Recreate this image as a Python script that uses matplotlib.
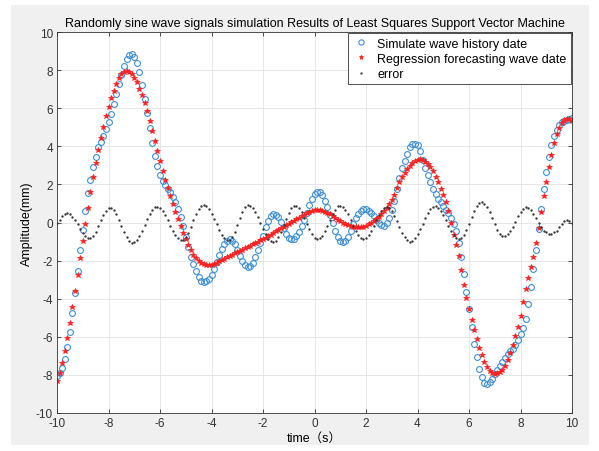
import numpy as np
import matplotlib
matplotlib.use("Agg")
import matplotlib.pyplot as plt
from matplotlib.patches import Rectangle

# =========================
# data, x = -10 : 0.1 : 10
# =========================
t_start, t_stop, t_step = -10.0, 10.0, 0.1

# simulated wave (blue circles)
wave_sim = [
    -8.05, -7.90, -7.65, -7.15, -6.55, -5.75, -4.75, -3.70, -2.55, -1.45,
    -0.40, 0.60, 1.55, 2.25, 2.90, 3.45, 3.95, 4.22, 4.56, 4.91,
    5.30, 5.70, 6.22, 6.75, 7.27, 7.74, 8.23, 8.58, 8.79, 8.85,
    8.67, 8.36, 7.88, 7.23, 6.48, 5.73, 4.94, 4.16, 3.51, 2.98,
    2.51, 2.19, 1.97, 1.76, 1.58, 1.32, 1.06, 0.71, 0.27, -0.20,
    -0.75, -1.30, -1.80, -2.20, -2.55, -2.88, -3.08, -3.14, -3.07, -2.95,
    -2.75, -2.45, -2.09, -1.72, -1.39, -1.12, -0.95, -0.87, -0.95, -1.15,
    -1.45, -1.75, -2.00, -2.25, -2.35, -2.30, -2.10, -1.80, -1.42, -1.05,
    -0.70, -0.25, 0.10, 0.32, 0.42, 0.40, 0.28, 0.05, -0.28, -0.58,
    -0.80, -0.88, -0.85, -0.70, -0.50, -0.20, 0.12, 0.48, 0.92, 1.25,
    1.48, 1.60, 1.58, 1.45, 1.15, 0.82, 0.40, -0.02, -0.42, -0.75,
    -0.95, -1.03, -0.95, -0.78, -0.45, -0.10, 0.22, 0.45, 0.62, 0.71,
    0.70, 0.62, 0.48, 0.33, 0.12, -0.02, -0.14, -0.17, -0.05, 0.25,
    0.65, 1.15, 1.75, 2.35, 2.85, 3.25, 3.62, 3.95, 4.10, 4.12,
    4.05, 3.75, 3.30, 2.85, 2.49, 2.11, 1.75, 1.48, 1.25, 1.05,
    0.85, 0.67, 0.50, 0.22, -0.10, -0.43, -1.05, -1.83, -2.68, -3.63,
    -4.56, -5.50, -6.38, -7.08, -7.69, -8.13, -8.40, -8.46, -8.38, -8.20,
    -7.95, -7.75, -7.55, -7.32, -7.10, -6.90, -6.76, -6.62, -6.42, -6.15,
    -5.87, -5.55, -5.05, -4.30, -3.40, -2.45, -1.45, -0.32, 0.72, 1.76,
    2.67, 3.42, 4.07, 4.52, 4.87, 5.10, 5.25, 5.32, 5.36, 5.42,
    5.49,
]

# regression forecast (red stars)
wave_reg = [
    -8.30, -7.90, -7.35, -6.75, -6.05, -5.30, -4.45, -3.60, -2.75, -1.85,
    -0.95, -0.10, 0.75, 1.58, 2.37, 3.10, 3.80, 4.44, 5.03, 5.57,
    6.08, 6.52, 6.92, 7.27, 7.57, 7.78, 7.90, 7.95, 7.90, 7.78,
    7.60, 7.36, 7.02, 6.68, 6.28, 5.83, 5.34, 4.82, 4.29, 3.77,
    3.24, 2.72, 2.25, 1.80, 1.40, 0.95, 0.55, 0.18, -0.17, -0.55,
    -0.88, -1.18, -1.45, -1.68, -1.87, -2.02, -2.13, -2.20, -2.24, -2.25,
    -2.22, -2.17, -2.11, -2.04, -1.97, -1.90, -1.83, -1.76, -1.69, -1.62,
    -1.56, -1.49, -1.42, -1.36, -1.29, -1.22, -1.15, -1.08, -1.01, -0.94,
    -0.87, -0.79, -0.71, -0.63, -0.55, -0.47, -0.39, -0.31, -0.23, -0.15,
    -0.07, 0.01, 0.09, 0.17, 0.25, 0.33, 0.41, 0.48, 0.54, 0.59,
    0.63, 0.65, 0.65, 0.62, 0.57, 0.50, 0.42, 0.33, 0.24, 0.15,
    0.07, 0.00, -0.07, -0.13, -0.18, -0.22, -0.24, -0.25, -0.24, -0.21,
    -0.16, -0.10, -0.02, 0.07, 0.17, 0.28, 0.42, 0.58, 0.76, 0.96,
    1.18, 1.46, 1.80, 2.10, 2.40, 2.62, 2.82, 2.98, 3.12, 3.23,
    3.30, 3.33, 3.30, 3.20, 3.08, 2.92, 2.68, 2.40, 2.12, 1.78,
    1.42, 1.05, 0.60, -0.05, -0.65, -1.20, -1.75, -2.50, -3.30, -3.95,
    -4.55, -5.12, -5.63, -6.12, -6.58, -6.98, -7.32, -7.58, -7.78, -7.90,
    -7.95, -7.92, -7.85, -7.72, -7.52, -7.22, -6.85, -6.45, -5.98, -5.50,
    -4.90, -4.15, -3.50, -2.90, -2.35, -1.80, -1.10, -0.30, 0.55, 1.40,
    2.15, 2.90, 3.55, 4.15, 4.62, 4.98, 5.22, 5.36, 5.43, 5.42,
    5.32,
]

# error (black dots)
err = [
    -0.05, 0.15, 0.33, 0.45, 0.48, 0.42, 0.29, 0.11, -0.08, -0.32,
    -0.53, -0.71, -0.80, -0.81, -0.69, -0.48, -0.20, 0.11, 0.39, 0.61,
    0.74, 0.75, 0.65, 0.44, 0.15, -0.17, -0.49, -0.77, -0.97, -1.06,
    -1.04, -0.92, -0.71, -0.43, -0.12, 0.19, 0.47, 0.68, 0.80, 0.83,
    0.76, 0.60, 0.38, 0.12, -0.16, -0.42, -0.65, -0.82, -0.91, -0.90,
    -0.78, -0.54, -0.22, 0.12, 0.45, 0.71, 0.88, 0.92, 0.85, 0.70,
    0.47, 0.19, -0.10, -0.39, -0.63, -0.81, -0.91, -0.90, -0.76, -0.49,
    -0.15, 0.22, 0.55, 0.80, 0.91, 0.89, 0.77, 0.57, 0.30, -0.01,
    -0.33, -0.61, -0.84, -0.99, -1.04, -0.97, -0.78, -0.50, -0.15, 0.20,
    0.52, 0.75, 0.87, 0.86, 0.74, 0.53, 0.25, -0.06, -0.36, -0.61,
    -0.79, -0.87, -0.83, -0.69, -0.46, -0.17, 0.15, 0.44, 0.68, 0.84,
    0.88, 0.82, 0.66, 0.42, 0.14, -0.16, -0.44, -0.67, -0.82, -0.87,
    -0.82, -0.67, -0.45, -0.18, 0.11, 0.38, 0.60, 0.75, 0.80, 0.75,
    0.59, 0.36, 0.07, -0.24, -0.53, -0.77, -0.94, -1.00, -0.96, -0.83,
    -0.62, -0.35, -0.06, 0.23, 0.50, 0.70, 0.82, 0.85, 0.78, 0.62,
    0.38, 0.11, -0.19, -0.46, -0.68, -0.82, -0.87, -0.81, -0.64, -0.38,
    -0.06, 0.28, 0.60, 0.85, 1.01, 1.06, 0.99, 0.81, 0.55, 0.24,
    -0.09, -0.37, -0.59, -0.70, -0.71, -0.62, -0.44, -0.21, 0.05, 0.32,
    0.54, 0.71, 0.79, 0.77, 0.65, 0.45, 0.22, -0.02, -0.25, -0.42,
    -0.52, -0.59, -0.60, -0.52, -0.42, -0.25, -0.08, 0.06, 0.14, 0.10,
    -0.02,
]

x_ticks = [-10, -8, -6, -4, -2, 0, 2, 4, 6, 8, 10]
y_ticks = [-10, -8, -6, -4, -2, 0, 2, 4, 6, 8, 10]

t = np.round(np.arange(t_start, t_stop + t_step / 2, t_step), 1)
assert len(t) == len(wave_sim) == len(wave_reg) == len(err)

# =========================
# plot
# =========================
plt.rcParams['font.family'] = ['Liberation Sans', 'Noto Sans CJK SC', 'DejaVu Sans']
plt.rcParams['axes.unicode_minus'] = False

fig = plt.figure(figsize=(5.99, 4.52), dpi=100, facecolor='white')
fig.patches.append(Rectangle((11 / 599, 6 / 452), 578 / 599, 440 / 452,
                             transform=fig.transFigure, facecolor='#f0f0f0',
                             edgecolor='none', zorder=-10))
ax = fig.add_axes([57 / 599, 38 / 452, 515 / 599, 381 / 452])
ax.set_facecolor('white')

ax.plot(t, wave_sim, linestyle='none', marker='o', markersize=4.2,
        markerfacecolor='none', markeredgecolor='#3d8fd6', markeredgewidth=0.8,
        label='Simulate wave history date')
ax.plot(t, wave_reg, linestyle='none', marker='*', markersize=4.0,
        color='#ff2020', markeredgewidth=0.5,
        label='Regression forecasting wave date')
ax.plot(t, err, linestyle='none', marker='.', markersize=1.4,
        color='#333333', label='error')

ax.set_xlim(-10, 10)
ax.set_ylim(-10, 10)
ax.set_xticks(x_ticks)
ax.set_yticks(y_ticks)
ax.grid(True, color='#e3e3e3', linewidth=0.6)
ax.set_axisbelow(True)
ax.tick_params(direction='in', length=3, width=0.6, colors='#333333',
               labelsize=8.5, top=True, right=True, pad=3)
for s in ax.spines.values():
    s.set_color('#333333')
    s.set_linewidth(0.6)

ax.set_title('Randomly sine wave signals simulation Results of Least Squares Support Vector Machine',
             fontsize=9, pad=4)
ax.set_xlabel('time（s）', fontsize=9, labelpad=2)
ax.set_ylabel('Amplitude(mm)', fontsize=9, labelpad=2)

leg = ax.legend(loc='upper right', fontsize=9, borderaxespad=0.1,
                handlelength=1.4, handletextpad=0.6, borderpad=0.35,
                labelspacing=0.25, fancybox=False, framealpha=1, markerscale=0.9)
leg.get_frame().set_edgecolor('#333333')
leg.get_frame().set_linewidth(0.6)

fig.savefig('out.png', dpi=100, facecolor=fig.get_facecolor())
